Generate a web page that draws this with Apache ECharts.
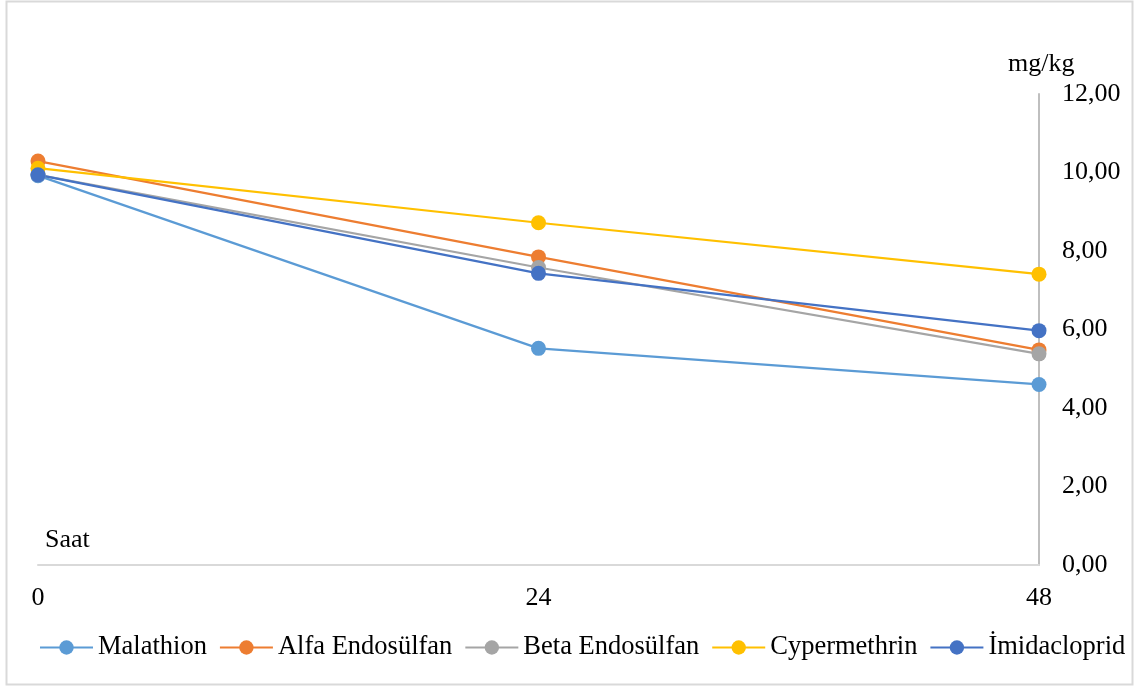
<!DOCTYPE html>
<html>
<head>
<meta charset="utf-8">
<script src="https://cdn.jsdelivr.net/npm/echarts@6/dist/echarts.min.js"></script>
<style>html,body{margin:0;padding:0;background:#fff}#c{width:1136px;height:688px}</style>
</head>
<body>
<div id="c"></div>
<script>
const categories = ['0', '24', '48'];
const seriesNames = ['Malathion', 'Alfa Endosülfan', 'Beta Endosülfan', 'Cypermethrin', 'İmidacloprid'];
const malathion = [9.92, 5.52, 4.60];
const alfaEndosulfan = [10.29, 7.85, 5.48];
const betaEndosulfan = [9.94, 7.58, 5.38];
const cypermethrin = [10.11, 8.72, 7.41];
const imidacloprid = [9.94, 7.43, 5.97];
const yTicks = { min: 0, max: 12, interval: 2 };
const colors = ['#5B9BD5', '#ED7D31', '#A5A5A5', '#FFC000', '#4472C4'];
const allData = [malathion, alfaEndosulfan, betaEndosulfan, cypermethrin, imidacloprid];

const font = '"Liberation Serif", "Times New Roman", serif';
const fs = 26;
const chart = echarts.init(document.getElementById('c'));
chart.setOption({
  backgroundColor: '#fff',
  animation: false,
  grid: { left: 38, right: 97, top: 94, bottom: 123, containLabel: false },
  graphic: [
    { type: 'rect', shape: { x: 6.5, y: 1.5, width: 1126, height: 683 }, style: { fill: 'none', stroke: '#d9d9d9', lineWidth: 2 }, silent: true },
    { type: 'text', left: 45, top: 527, style: { text: 'Saat', font: fs + 'px ' + font, fill: '#000' } },
    { type: 'text', left: 1008, top: 51, style: { text: 'mg/kg', font: fs + 'px ' + font, fill: '#000' } }
  ],
  legend: {
    bottom: 22,
    left: 34,
    itemWidth: 53,
    itemHeight: 18,
    itemGap: 12,
    textStyle: { fontFamily: font, fontSize: 26.5, color: '#000' },
    data: seriesNames
  },
  xAxis: {
    type: 'category',
    data: categories,
    boundaryGap: false,
    axisLine: { show: true, lineStyle: { color: '#d9d9d9', width: 2 } },
    axisTick: { show: false },
    axisLabel: { color: '#000', fontFamily: font, fontSize: fs, margin: 20 },
    splitLine: { show: false }
  },
  yAxis: {
    type: 'value',
    position: 'right',
    min: yTicks.min, max: yTicks.max, interval: yTicks.interval,
    axisLine: { show: true, lineStyle: { color: '#bfbfbf', width: 2 } },
    axisTick: { show: false },
    splitLine: { show: false },
    axisLabel: {
      color: '#000', fontFamily: font, fontSize: fs, margin: 23,
      formatter: v => v.toFixed(2).replace('.', ',')
    }
  },
  series: seriesNames.map((n, i) => ({
    name: n,
    type: 'line',
    data: allData[i],
    symbol: 'circle',
    symbolSize: 15,
    color: colors[i],
    lineStyle: { width: 2.2, color: colors[i] },
    itemStyle: { color: colors[i] }
  }))
});
</script>
</body>
</html>
